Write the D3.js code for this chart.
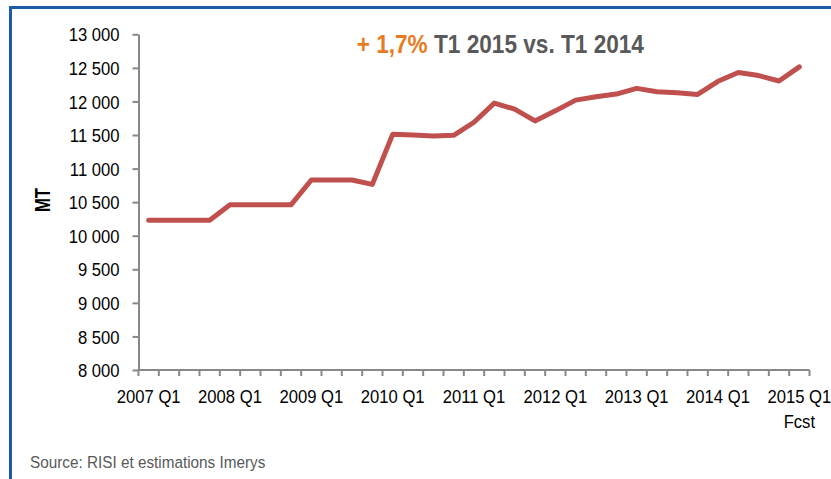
<!DOCTYPE html>
<html>
<head>
<meta charset="utf-8">
<script src="https://cdn.jsdelivr.net/npm/d3@7"></script>
<style>
  body { margin: 0; background: #fff; }
  text { font-family: "Liberation Sans", Arial, sans-serif; }
</style>
</head>
<body>
<script>
// Quarterly volume (MT), 2007 Q1 .. 2015 Q1 (last point is a forecast)

let quarters = [
  "2007 Q1", "2007 Q2", "2007 Q3", "2007 Q4",
  "2008 Q1", "2008 Q2", "2008 Q3", "2008 Q4",
  "2009 Q1", "2009 Q2", "2009 Q3", "2009 Q4",
  "2010 Q1", "2010 Q2", "2010 Q3", "2010 Q4",
  "2011 Q1", "2011 Q2", "2011 Q3", "2011 Q4",
  "2012 Q1", "2012 Q2", "2012 Q3", "2012 Q4",
  "2013 Q1", "2013 Q2", "2013 Q3", "2013 Q4",
  "2014 Q1", "2014 Q2", "2014 Q3", "2014 Q4",
  "2015 Q1"
];
let values = [
  10230, 10230, 10230, 10230,
  10460, 10460, 10460, 10460,
  10830, 10830, 10830, 10765,
  11510, 11500, 11485, 11495,
  11690, 11975, 11885, 11710,
  11860, 12020, 12070, 12110,
  12195, 12145, 12130, 12105,
  12300, 12430, 12385, 12305,
  12515
];
let labelledQuarters = ["2007 Q1", "2008 Q1", "2009 Q1", "2010 Q1", "2011 Q1",
  "2012 Q1", "2013 Q1", "2014 Q1", "2015 Q1"];
let yTicks = [8000, 8500, 9000, 9500, 10000, 10500, 11000, 11500, 12000, 12500, 13000];

let width = 831;
let height = 479;
let squeeze = 0.9;   // the source font is slightly narrow
let axisColor = "#888888";

let svg = d3.select("body").append("svg")
  .attr("width", width)
  .attr("height", height);

// blue frame (open on the right and bottom)
svg.append("rect")
  .attr("x", 10.5).attr("y", 7.5)
  .attr("width", width + 20).attr("height", height + 20)
  .attr("fill", "none")
  .attr("stroke", "#1a5ca8")
  .attr("stroke-width", 3);

let x = d3.scaleBand()
  .domain(quarters)
  .range([138.5, 809.5])
  .padding(0);

let y = d3.scaleLinear()
  .domain([8000, 13000])
  .range([370, 34.3]);

let fr = d3.formatLocale({ decimal: ",", thousands: " ", grouping: [3], currency: ["", ""] });
let fmt = fr.format(",d");

// y axis
let yAxis = svg.append("g")
  .attr("transform", "translate(138.5,0)")
  .call(d3.axisLeft(y).tickValues(yTicks).tickSize(6).tickSizeOuter(0).tickFormat(fmt));
yAxis.select(".domain").attr("stroke", axisColor).attr("stroke-width", 2);
yAxis.selectAll(".tick line").attr("stroke", axisColor).attr("stroke-width", 2);
yAxis.selectAll(".tick text")
  .attr("x", -19 / squeeze)
  .attr("dy", "0.36em")
  .attr("transform", `scale(${squeeze},1)`)
  .style("font-size", "18.5px")
  .attr("fill", "#000");

// x axis: ticks on band boundaries, labels in band centres
let xg = svg.append("g").attr("transform", "translate(0,370)");
xg.append("line")
  .attr("x1", x.range()[0] - 1).attr("x2", x.range()[1])
  .attr("stroke", axisColor).attr("stroke-width", 2);
xg.selectAll(".xtick")
  .data(quarters.map(q => x(q)).concat([x.range()[1]]))
  .join("line")
  .attr("class", "xtick")
  .attr("x1", d => d).attr("x2", d => d)
  .attr("y1", 0).attr("y2", 6)
  .attr("stroke", axisColor).attr("stroke-width", 2);
xg.selectAll(".xlabel")
  .data(labelledQuarters)
  .join("text")
  .attr("class", "xlabel")
  .attr("transform", d => `translate(${x(d) + x.bandwidth() / 2},33) scale(${squeeze},1)`)
  .attr("text-anchor", "middle")
  .style("font-size", "18.5px")
  .attr("fill", "#000")
  .text(d => d);
xg.append("text")
  .attr("transform", `translate(${x("2015 Q1") + x.bandwidth() / 2},58) scale(${squeeze},1)`)
  .attr("text-anchor", "middle")
  .style("font-size", "18.5px")
  .attr("fill", "#000")
  .text("Fcst");

// y axis title
svg.append("text")
  .attr("transform", "translate(50,200) rotate(-90) scale(0.76,1)")
  .attr("text-anchor", "middle")
  .style("font-size", "22px")
  .style("font-weight", "bold")
  .attr("fill", "#000")
  .text("MT");

// the series
let line = d3.line()
  .x((d, i) => x(quarters[i]) + x.bandwidth() / 2)
  .y(d => y(d));

svg.append("path")
  .datum(values)
  .attr("d", line)
  .attr("fill", "none")
  .attr("stroke", "#c0504d")
  .attr("stroke-width", 5)
  .attr("stroke-linejoin", "round")
  .attr("stroke-linecap", "round");

// headline
let title = svg.append("text")
  .attr("transform", "translate(356.7,53.3) scale(0.887,1)")
  .style("font-size", "25.5px")
  .style("font-weight", "bold");
title.append("tspan").attr("fill", "#e87b22").text("+ 1,7%");
title.append("tspan").attr("fill", "#595959").text(" T1 2015 vs. T1 2014");

// source note
svg.append("text")
  .attr("transform", `translate(30,468.3) scale(${squeeze},1)`)
  .style("font-size", "17px")
  .attr("fill", "#595959")
  .text("Source: RISI et estimations Imerys");
</script>
</body>
</html>
